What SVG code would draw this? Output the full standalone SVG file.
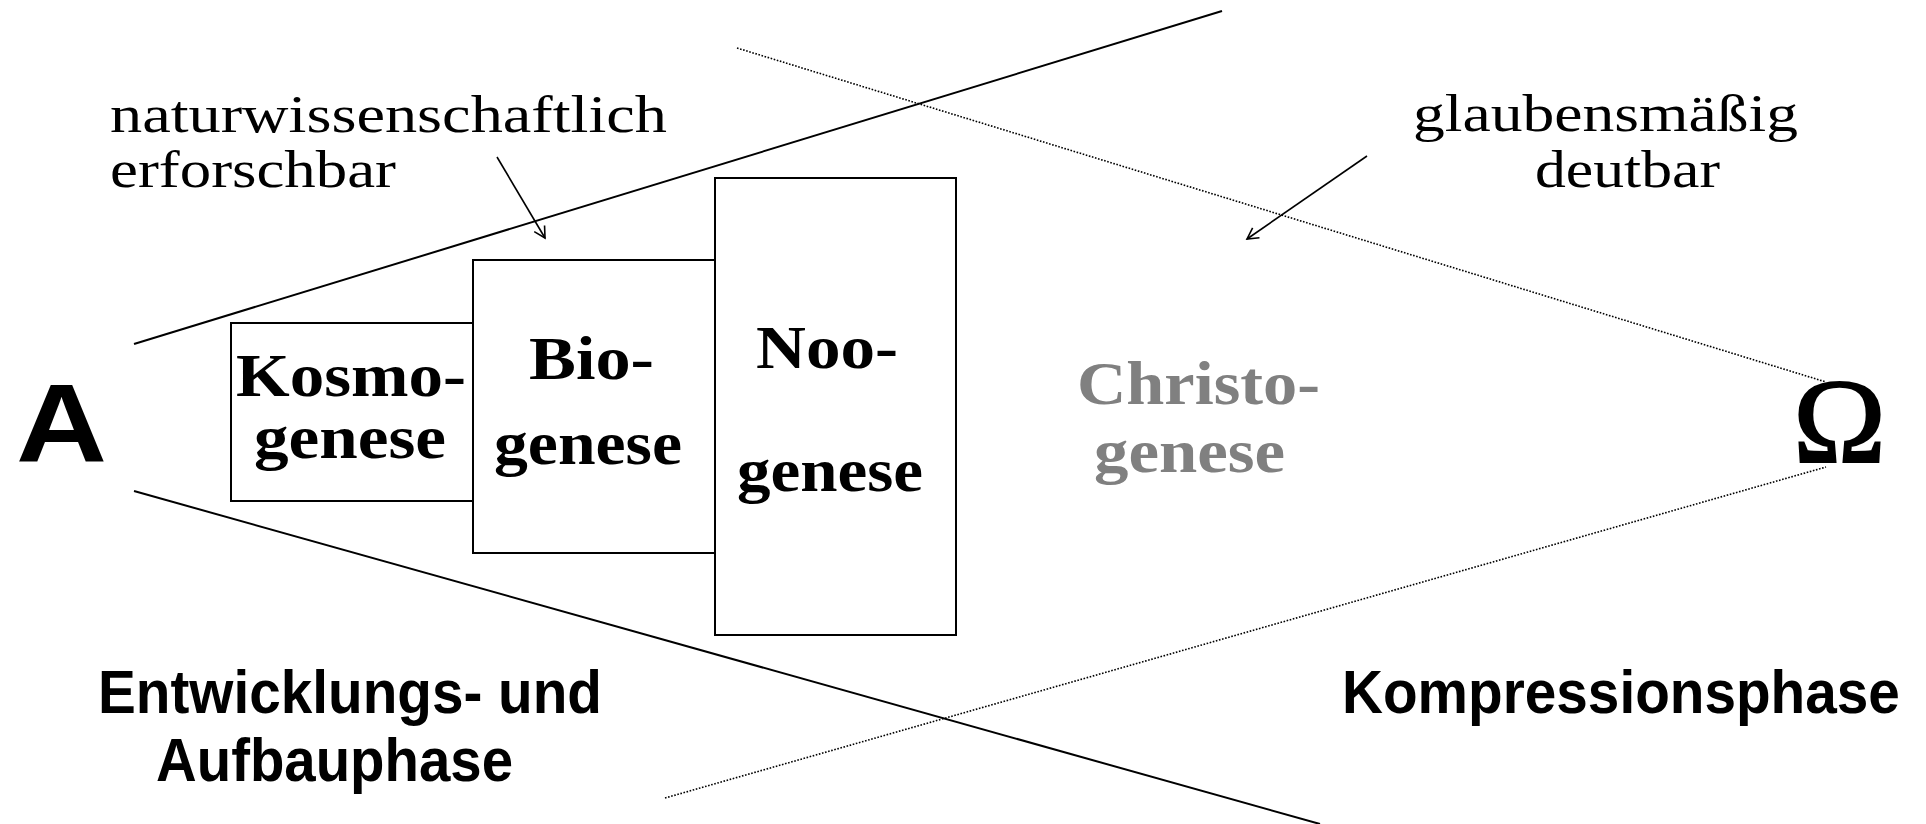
<svg xmlns="http://www.w3.org/2000/svg" width="1926" height="824" viewBox="0 0 1926 824">
<style>
.solid{stroke:#000;stroke-width:2;fill:none}
.dot{stroke:#000;stroke-width:1.6;fill:none;stroke-dasharray:1.6 1.6}
.box{stroke:#000;stroke-width:2;fill:#fff}
.serif{font-family:"Liberation Serif","Times New Roman",serif;fill:#000}
.bserif{font-family:"Liberation Serif","Times New Roman",serif;font-weight:bold;fill:#000;font-size:62px}
.sans{font-family:"Liberation Sans",Arial,sans-serif;font-weight:bold;fill:#000}
.arrow{stroke:#000;stroke-width:1.6;fill:none}
</style>
<defs>
<marker id="open" markerWidth="14" markerHeight="14" refX="12" refY="7" orient="auto" markerUnits="userSpaceOnUse">
<path d="M1,1 L12,7 L1,13" fill="none" stroke="#000" stroke-width="1.6"/>
</marker>
</defs>
<rect width="1926" height="824" fill="#fff"/>
<g id="connectors">
<line class="solid" x1="134" y1="344" x2="1222" y2="11"/>
<line class="solid" x1="134" y1="491" x2="1320" y2="824"/>
<line class="dot" x1="737" y1="48" x2="1826" y2="382"/>
<line class="dot" x1="665" y1="798" x2="1826" y2="467"/>
<line class="arrow" x1="497" y1="157" x2="545" y2="238" marker-end="url(#open)"/>
<line class="arrow" x1="1367" y1="156" x2="1247" y2="239" marker-end="url(#open)"/>
</g>
<g id="kosmo">
<rect class="box" x="231" y="323" width="242" height="178"/>
<text class="bserif" x="236" y="396" textLength="230" lengthAdjust="spacingAndGlyphs">Kosmo-</text>
<text class="bserif" x="254" y="458" textLength="192" lengthAdjust="spacingAndGlyphs">genese</text>
</g>
<g id="bio">
<rect class="box" x="473" y="260" width="242" height="293"/>
<text class="bserif" x="529" y="379" textLength="125" lengthAdjust="spacingAndGlyphs">Bio-</text>
<text class="bserif" x="494" y="464" textLength="188" lengthAdjust="spacingAndGlyphs">genese</text>
</g>
<g id="noo">
<rect class="box" x="715" y="178" width="241" height="457"/>
<text class="bserif" x="756" y="368" textLength="142" lengthAdjust="spacingAndGlyphs">Noo-</text>
<text class="bserif" x="737" y="491" textLength="186" lengthAdjust="spacingAndGlyphs">genese</text>
</g>
<g id="christo">
<text class="bserif" x="1077" y="404" textLength="243" lengthAdjust="spacingAndGlyphs" style="fill:#808080">Christo-</text>
<text class="bserif" x="1094" y="472" textLength="191" lengthAdjust="spacingAndGlyphs" style="fill:#808080">genese</text>
</g>
<g id="alpha">
<text class="sans" x="16" y="462" font-size="112" textLength="91" lengthAdjust="spacingAndGlyphs">A</text>
</g>
<g id="omega">
<text class="serif" x="1793" y="462" font-size="120" textLength="93" lengthAdjust="spacingAndGlyphs" style="stroke:#000;stroke-width:2">Ω</text>
</g>
<g id="label-natur">
<text class="serif" x="110" y="132" font-size="52" textLength="557" lengthAdjust="spacingAndGlyphs">naturwissenschaftlich</text>
<text class="serif" x="110" y="187" font-size="52" textLength="286" lengthAdjust="spacingAndGlyphs">erforschbar</text>
</g>
<g id="label-glauben">
<text class="serif" x="1413" y="131" font-size="52" textLength="385" lengthAdjust="spacingAndGlyphs">glaubensmäßig</text>
<text class="serif" x="1535" y="187" font-size="52" textLength="185" lengthAdjust="spacingAndGlyphs">deutbar</text>
</g>
<g id="label-entwicklung">
<text class="sans" x="98" y="713" font-size="61" textLength="504" lengthAdjust="spacingAndGlyphs">Entwicklungs- und</text>
<text class="sans" x="156" y="781" font-size="61" textLength="357" lengthAdjust="spacingAndGlyphs">Aufbauphase</text>
</g>
<g id="label-kompression">
<text class="sans" transform="translate(1342,713) scale(0.93,1)" x="0" y="0" font-size="61">Kompressionsphase</text>
</g>
</svg>
